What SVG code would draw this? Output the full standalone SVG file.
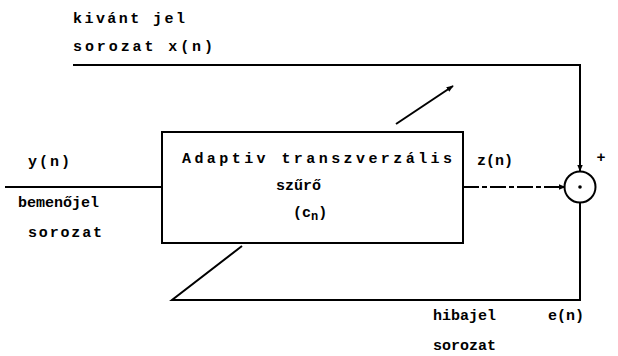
<svg xmlns="http://www.w3.org/2000/svg" width="618" height="356" viewBox="0 0 618 356">
<style>
.t{font-family:"Liberation Mono","DejaVu Sans Mono",monospace;font-weight:bold;font-size:15px;fill:#000}
.l{fill:none;stroke:#000;stroke-width:2}
</style>
<defs>
<marker id="ah" viewBox="0 0 10 10" refX="9" refY="5" markerWidth="7" markerHeight="7" orient="auto" markerUnits="userSpaceOnUse">
<path d="M0,1 L10,5 L0,9 Z" fill="#000"/>
</marker>
</defs>
<rect width="618" height="356" fill="#fff"/>
<g id="connectors">
<polyline class="l" points="73,65 580,65 580,171" marker-end="url(#ah)"/>
<line class="l" x1="5" y1="187" x2="162" y2="187"/>
<line class="l" x1="463" y1="187" x2="565" y2="187" stroke-dasharray="16,3,5,3" marker-end="url(#ah)"/>
<line class="l" x1="396" y1="124" x2="453" y2="86" marker-end="url(#ah)"/>
<polyline class="l" points="580,202 580,300 172,300 242,246"/>
</g>
<g id="filter">
<rect class="l" x="162" y="132" width="301" height="111"/>
<text class="t" x="182" y="163" textLength="270" lengthAdjust="spacing">Adaptiv transzverzális</text>
<text class="t" x="276" y="190">szűrő</text>
<text class="t" x="293" y="217">(c<tspan dy="3" font-size="12">n</tspan><tspan dy="-3">)</tspan></text>
</g>
<g id="sum">
<circle class="l" cx="580" cy="187" r="15.5"/>
<circle cx="580" cy="187" r="1.8" fill="#000"/>
<text class="t" x="601" y="162" text-anchor="middle" font-size="12">+</text>
</g>
<g id="labels">
<text class="t" x="73" y="23" textLength="112" lengthAdjust="spacing">kivánt jel</text>
<text class="t" x="73" y="51" textLength="140" lengthAdjust="spacing">sorozat x(n)</text>
<text class="t" x="28" y="166" textLength="42" lengthAdjust="spacing">y(n)</text>
<text class="t" x="18" y="207">bemenőjel</text>
<text class="t" x="28" y="237" textLength="74" lengthAdjust="spacing">sorozat</text>
<text class="t" x="477" y="165">z(n)</text>
<text class="t" x="433" y="320">hibajel</text>
<text class="t" x="548" y="320">e(n)</text>
<text class="t" x="433" y="350">sorozat</text>
</g>
</svg>
